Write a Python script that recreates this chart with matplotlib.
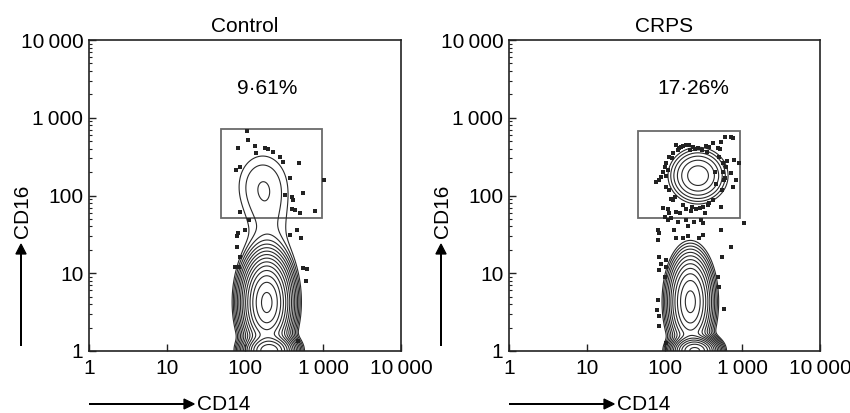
import numpy as np
import matplotlib
matplotlib.use("Agg")
import matplotlib.pyplot as plt
from matplotlib.ticker import FixedLocator, FixedFormatter, LogLocator, NullFormatter
from matplotlib.patches import Rectangle, FancyArrow

plt.rcParams['font.family'] = ['Liberation Sans', 'DejaVu Sans']

# ---------------- data ----------------
panel_titles = ["Control", "CRPS"]
gate_percent = ["9\u00b761%", "17\u00b726%"]
tick_values = [1, 10, 100, 1000, 10000]
tick_labels = ["1", "10", "100", "1\u2009000", "10\u2009000"]

# gate rectangles: CD14 low/high, CD16 low/high
control_gate = [49, 970, 52, 716]
crps_gate = [46, 935, 51, 680]

# population clusters: CD14 centre, CD16 centre,
# spread (decades) in CD14, spread in CD16, relative weight
control_cd14 = [190, 205, 200, 165]
control_cd16 = [4.2, 1.0, 30, 140]
control_sx = [0.13, 0.13, 0.22, 0.24]
control_sy = [0.25, 0.09, 0.45, 0.30]
control_w = [1.0, 1.2, 0.0042, 0.0056]

crps_cd14 = [215, 245, 270]
crps_cd16 = [4.3, 1.0, 180]
crps_sx = [0.12, 0.12, 0.18]
crps_sy = [0.26, 0.08, 0.17]
crps_w = [0.30, 1.0, 0.030]

# scattered single events
control_dot_cd14 = [107, 110, 81, 134, 180, 198, 230, 140, 280, 309, 86, 76, 491, 376,
                    1028, 324, 395, 547, 415, 395, 436, 506, 787, 86, 113, 100, 82, 78,
                    458, 521, 376, 86, 84, 74, 557, 628, 598, 481, 79]
control_dot_cd16 = [682, 517, 404, 437, 412, 396, 366, 349, 316, 272, 235, 213, 259, 166,
                    158, 101, 97, 109, 87, 68, 65, 59, 64, 62, 48, 36, 33, 30,
                    36, 28, 31, 16, 12, 12, 11.6, 11.2, 7.9, 1.36, 22]

crps_dot_cd14 = [604, 713, 750, 531, 415, 376, 481, 141, 189, 230, 155, 127, 115, 104,
                 100, 110, 86, 78, 90, 104, 115, 506, 569, 615, 713, 787, 828, 750,
                 586, 557, 415, 376, 309, 254, 189, 171, 127, 110, 115, 121, 110, 100,
                 531, 912, 148, 189, 242, 294, 309, 198, 134, 82, 82, 86, 141, 171,
                 198, 280, 309, 531, 713, 1059, 557, 86, 104, 90, 86, 100, 104, 82,
                 79, 84, 86, 481, 506, 586, 104, 165, 210, 250, 300, 350, 120, 95,
                 140, 460, 440, 520, 95, 160, 220, 330,
                 175, 205, 270, 340, 150, 125, 105, 560, 600, 640, 360, 285, 225, 135]
crps_dot_cd16 = [571, 560, 543, 493, 469, 425, 404, 446, 446, 425, 404, 349, 316, 259,
                 235, 213, 158, 151, 175, 130, 118, 316, 259, 235, 193, 286, 158, 130,
                 158, 118, 87, 79, 72, 68, 68, 75, 87, 68, 59, 51, 48, 53,
                 72, 259, 46, 48, 46, 48, 44, 40, 36, 36, 27, 33, 28, 28,
                 30, 28, 31, 36, 22, 44, 16, 16, 15, 13, 11, 9, 12, 4.5,
                 3.4, 2.8, 2.1, 9, 6.7, 3.5, 1.26, 420, 390, 400, 380, 360, 90, 70,
                 62, 140, 200, 400, 200, 60, 64, 60,
                 430, 450, 410, 435, 380, 300, 180, 200, 170, 280, 76, 70, 72, 95]

# --------------- drawing ---------------
fig = plt.figure(figsize=(8.5, 4.13), dpi=100)
W, H = 850.0, 413.0
ax_boxes = [(89, 40, 401, 351), (509, 40, 820, 351)]

clusters = [
    (control_cd14, control_cd16, control_sx, control_sy, control_w),
    (crps_cd14, crps_cd16, crps_sx, crps_sy, crps_w),
]
gates = [control_gate, crps_gate]
dots = [(control_dot_cd14, control_dot_cd16), (crps_dot_cd14, crps_dot_cd16)]
label_x = [190, 235]

gx = np.linspace(0, 4, 500)
gy = np.linspace(0, 4, 500)
GX, GY = np.meshgrid(gx, gy)
levels = 0.003 * 1.5 ** np.arange(0, 16)

line_col = "#2a2a2a"
FS = 15

for i, (x0, y0, x1, y1) in enumerate(ax_boxes):
    ax = fig.add_axes([x0 / W, 1 - y1 / H, (x1 - x0) / W, (y1 - y0) / H])
    ax.set_xscale("log")
    ax.set_yscale("log")
    ax.set_xlim(1, 10000)
    ax.set_ylim(1, 10000)

    cx, cy, sx, sy, w = clusters[i]
    Z = np.zeros_like(GX)
    for a, b, s1, s2, ww in zip(cx, cy, sx, sy, w):
        Z += ww * np.exp(-0.5 * (((GX - np.log10(a)) / s1) ** 2 + ((GY - np.log10(b)) / s2) ** 2))
    ax.contour(10 ** GX, 10 ** GY, Z, levels=levels, colors=line_col, linewidths=0.8)

    dx, dy = dots[i]
    ax.plot(dx, dy, ls="none", marker="s", ms=2.3, color="#222222", mew=0)

    g = gates[i]
    ax.add_patch(Rectangle((g[0], g[2]), g[1] - g[0], g[3] - g[2], fill=False,
                           edgecolor="#6a6a6a", lw=1.3))

    ax.text(label_x[i], 2400, gate_percent[i], ha="center", va="center", fontsize=FS)
    ax.set_title(panel_titles[i], fontsize=FS, pad=6)

    for axis in (ax.xaxis, ax.yaxis):
        axis.set_major_locator(FixedLocator(tick_values))
        axis.set_major_formatter(FixedFormatter(tick_labels))
        axis.set_minor_locator(LogLocator(base=10, subs=np.arange(2, 10)))
        axis.set_minor_formatter(NullFormatter())
    ax.tick_params(which="major", direction="in", length=5, width=1.0, labelsize=FS,
                   top=False, right=False, color="#222")
    ax.tick_params(axis="x", which="major", pad=6)
    ax.tick_params(axis="y", which="major", pad=4)
    ax.tick_params(which="minor", direction="in", length=2.5, width=0.8,
                   top=False, right=False, color="#222")
    for sp in ax.spines.values():
        sp.set_linewidth(1.2)
        sp.set_color("#222")

    # axis labels with arrows
    fig.text((x0 + 108) / W, 1 - 404 / H, "CD14", ha="left", va="center", fontsize=FS)
    fig.patches.append(FancyArrow(
        x0 / W, 1 - 404 / H, 95 / W, 0, width=0.0, head_width=0.024, head_length=0.012,
        length_includes_head=False, color="black", transform=fig.transFigure, figure=fig,
        lw=0.9))
    lx = (x0 - 68) / W
    fig.text(lx + 1.5 / W, 1 - 211 / H, "CD16", ha="center", va="center", rotation=90,
             fontsize=FS)
    fig.patches.append(FancyArrow(
        lx, 1 - 346 / H, 0, 92 / H, width=0.0, head_width=0.012, head_length=0.024,
        length_includes_head=False, color="black", transform=fig.transFigure, figure=fig,
        lw=0.9))

fig.savefig("out.png", dpi=100)
